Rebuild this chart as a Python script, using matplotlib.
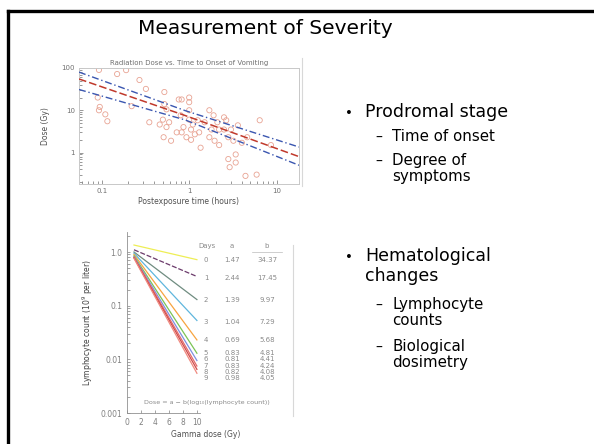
import matplotlib
matplotlib.use("Agg")
import matplotlib.pyplot as plt
from matplotlib.lines import Line2D
from matplotlib.ticker import NullFormatter

# ---------------- data: upper chart (dose vs time to onset of vomiting) ----------------
vomit_time = [0.093, 0.15, 0.19, 0.27, 0.32, 0.09, 0.095, 0.093, 0.11, 0.116, 0.22, 0.35,
              0.52, 0.52, 0.55, 0.50, 0.55, 0.51, 0.62, 0.76, 0.72, 0.82, 0.59, 0.46,
              1.0, 1.0, 0.82, 1.0, 0.80, 1.0, 0.86, 1.05, 1.16, 0.93, 1.05, 1.3, 1.35,
              1.7, 1.9, 2.1, 2.2, 1.8, 1.7, 1.95, 2.2, 2.5, 2.65, 2.5, 3.0, 2.8, 3.2,
              3.6, 3.4, 3.4, 2.8, 2.9, 4.4, 5.9, 6.4, 4.0, 4.6, 8.6, 1.1, 1.25, 1.5]
vomit_dose = [90, 72, 89, 52, 32, 20, 12, 10, 8, 5.5, 12.5, 5.2,
              27, 14, 10.5, 6, 4, 2.3, 1.9, 18, 3, 3, 5.2, 4.6,
              20, 15.5, 18, 10, 7.6, 6, 4, 3.5, 2.7, 2.3, 2.0, 3, 1.3,
              10, 7.6, 5.2, 3.5, 3.5, 2.3, 1.9, 1.5, 6.8, 5.8, 3.5, 3.5, 2.3, 1.9,
              4.4, 0.9, 0.58, 0.7, 0.45, 0.28, 0.3, 5.8, 1.7, 2.3, 1.5, 4.6, 5.8, 5.2]
fit_time = [0.055, 0.9, 18]
fit_mid = [55, 7.5, 0.8]
fit_upper = [80, 9.8, 1.35]
fit_lower = [31, 5.9, 0.5]

# ---------------- data: lower chart (lymphocyte depletion) ----------------
days = ["0", "1", "2", "3", "4", "5", "6", "7", "8", "9"]
coef_a = ["1.47", "2.44", "1.39", "1.04", "0.69", "0.83", "0.81", "0.83", "0.82", "0.98"]
coef_b = ["34.37", "17.45", "9.97", "7.29", "5.68", "4.81", "4.41", "4.24", "4.08", "4.05"]
dose_pts = [1, 10]
count_start = [1.35, 1.1, 1.0, 0.95, 0.9, 0.85, 0.82, 0.8, 0.78, 0.76]
count_end = [0.72, 0.35, 0.13, 0.053, 0.023, 0.013, 0.0095, 0.0075, 0.0065, 0.0055]
line_colors = ["#eeee55", "#6b3a6b", "#6f8c80", "#5fb6dd", "#f7a440", "#7cc455",
               "#7f8fe0", "#e36a6a", "#cf4a4a", "#f08a80"]

bullets = [
    ("•", "Prodromal stage", 0),
    ("–", "Time of onset", 1),
    ("–", "Degree of\nsymptoms", 1),
    ("•", "Hematological\nchanges", 0),
    ("–", "Lymphocyte\ncounts", 1),
    ("–", "Biological\ndosimetry", 1),
]

W, H = 594, 444
fig = plt.figure(figsize=(W / 100, H / 100), dpi=100)
fig.patch.set_facecolor("white")


def fx(px):
    return px / W


def fy(py):
    return 1 - py / H


# slide border (left and top)
fig.add_artist(Line2D([fx(8), fx(8)], [fy(11), fy(H + 5)], color="black", lw=2.4,
                      transform=fig.transFigure, solid_capstyle="projecting"))
fig.add_artist(Line2D([fx(8), fx(W + 5)], [fy(11), fy(11)], color="black", lw=2.4,
                      transform=fig.transFigure, solid_capstyle="projecting"))
# faint edges of embedded pictures
fig.add_artist(Line2D([fx(302), fx(302)], [fy(58), fy(186)], color="#d8d8d8", lw=0.8,
                      transform=fig.transFigure))
fig.add_artist(Line2D([fx(293), fx(293)], [fy(245), fy(416)], color="#d8d8d8", lw=0.8,
                      transform=fig.transFigure))

# title
fig.text(fx(265), fy(29), "Measurement of Severity", ha="center", va="center",
         fontsize=14.5, color="black")

# bullets
ys = [113, 138, 162, 257, 306, 348]
for (sym, txt, lvl), yy in zip(bullets, ys):
    if lvl == 0:
        fig.text(fx(345), fy(yy), sym, ha="left", va="center", fontsize=9.5)
        fig.text(fx(365), fy(yy - 10), txt, ha="left", va="top", fontsize=12.5,
                 linespacing=1.12)
    else:
        fig.text(fx(375), fy(yy), sym, ha="left", va="center", fontsize=10)
        fig.text(fx(392), fy(yy - 9), txt, ha="left", va="top", fontsize=10.8,
                 linespacing=1.12)

# ---------------- upper chart ----------------
gray = "#707070"
ax1 = fig.add_axes([fx(79), fy(184), fx(299) - fx(79), (184 - 68) / H])
ax1.set_xscale("log")
ax1.set_yscale("log")
ax1.set_xlim(0.055, 18)
ax1.set_ylim(0.18, 100)
ax1.scatter(vomit_time, vomit_dose, s=14, facecolors="none", edgecolors="#e8a393",
            linewidths=0.6, zorder=2)
ax1.plot(fit_time, fit_upper, color="#3a56b0", lw=1.0, ls=(0, (5, 2, 1, 2)), zorder=3)
ax1.plot(fit_time, fit_lower, color="#3a56b0", lw=1.0, ls=(0, (5, 2, 1, 2)), zorder=3)
ax1.plot(fit_time, fit_mid, color="#c0392b", lw=1.1, ls=(0, (5, 2)), zorder=4)
ax1.set_xticks([0.1, 1, 10])
ax1.set_xticklabels(["0.1", "1", "10"])
ax1.set_yticks([1, 10, 100])
ax1.set_yticklabels(["1", "10", "100"])
ax1.tick_params(axis="both", which="both", direction="in", labelsize=5, colors=gray,
                length=2, width=0.5, pad=3)
ax1.tick_params(which="major", length=3)
for sp in ax1.spines.values():
    sp.set_color("#c8c8c8")
    sp.set_linewidth(0.7)
ax1.set_title("Radiation Dose vs. Time to Onset of Vomiting", fontsize=5, color=gray, pad=2)
ax1.set_xlabel("Postexposure time (hours)", fontsize=5.5, color="#505050", labelpad=2)
ax1.set_ylabel("Dose (Gy)", fontsize=5.5, color="#505050", labelpad=8)

# ---------------- lower chart ----------------
ax2 = fig.add_axes([fx(127), fy(413), fx(285) - fx(127), (413 - 232) / H])
ax2.set_yscale("log")
ax2.set_xlim(0, 22.6)
ax2.set_ylim(0.001, 2.36)
for i in range(len(days)):
    ls = (0, (4, 1.5)) if i == 1 else "-"
    ax2.plot(dose_pts, [count_start[i], count_end[i]], color=line_colors[i], lw=0.9, ls=ls)
ax2.spines["top"].set_visible(False)
ax2.spines["right"].set_visible(False)
ax2.spines["left"].set_color("#909090")
ax2.spines["bottom"].set_color("#909090")
ax2.spines["left"].set_linewidth(0.6)
ax2.spines["bottom"].set_linewidth(0.6)
ax2.spines["bottom"].set_bounds(0, 10.5)
ax2.set_xticks([0, 2, 4, 6, 8, 10])
ax2.set_yticks([0.001, 0.01, 0.1, 1.0])
ax2.set_yticklabels(["0.001", "0.01", "0.1", "1.0"])
ax2.yaxis.set_minor_formatter(NullFormatter())
ax2.tick_params(axis="both", which="both", direction="in", labelsize=5.5, colors="#808080",
                length=2, width=0.5)
ax2.set_xlabel("Gamma dose (Gy)", fontsize=5.5, color="#505050", labelpad=2)
ax2.set_ylabel("Lymphocyte count ($10^9$ per liter)", fontsize=5.5, color="#404040",
               labelpad=4)

# table inside lower chart (pixel rows converted to axes fractions)
row_py = [260, 278, 300, 322, 340, 353, 359, 366, 372, 378]
tc = "#8a8a8a"


def ay(py):
    return (413 - py) / (413 - 232)


def axx(px):
    return (px - 127) / (285 - 127)


ax2.text(axx(207), ay(246), "Days", transform=ax2.transAxes, ha="center", va="center",
         fontsize=5, color=tc)
ax2.text(axx(232), ay(246), "a", transform=ax2.transAxes, ha="center", va="center",
         fontsize=5, color=tc)
ax2.text(axx(267), ay(246), "b", transform=ax2.transAxes, ha="center", va="center",
         fontsize=5, color=tc)
ax2.plot([axx(252), axx(282)], [ay(252), ay(252)], transform=ax2.transAxes,
         color="#bbbbbb", lw=0.5, clip_on=False)
for d, a, b, py in zip(days, coef_a, coef_b, row_py):
    ax2.text(axx(206), ay(py), d, transform=ax2.transAxes, ha="center", va="center",
             fontsize=5, color=tc)
    ax2.text(axx(232), ay(py), a, transform=ax2.transAxes, ha="center", va="center",
             fontsize=5, color=tc)
    ax2.text(axx(267), ay(py), b, transform=ax2.transAxes, ha="center", va="center",
             fontsize=5, color=tc)
ax2.text(axx(207), ay(402), "Dose = a − b(log₁₀(lymphocyte count))", transform=ax2.transAxes,
         ha="center", va="center", fontsize=4.6, color=tc)

fig.savefig("out.png", dpi=100, facecolor="white")
